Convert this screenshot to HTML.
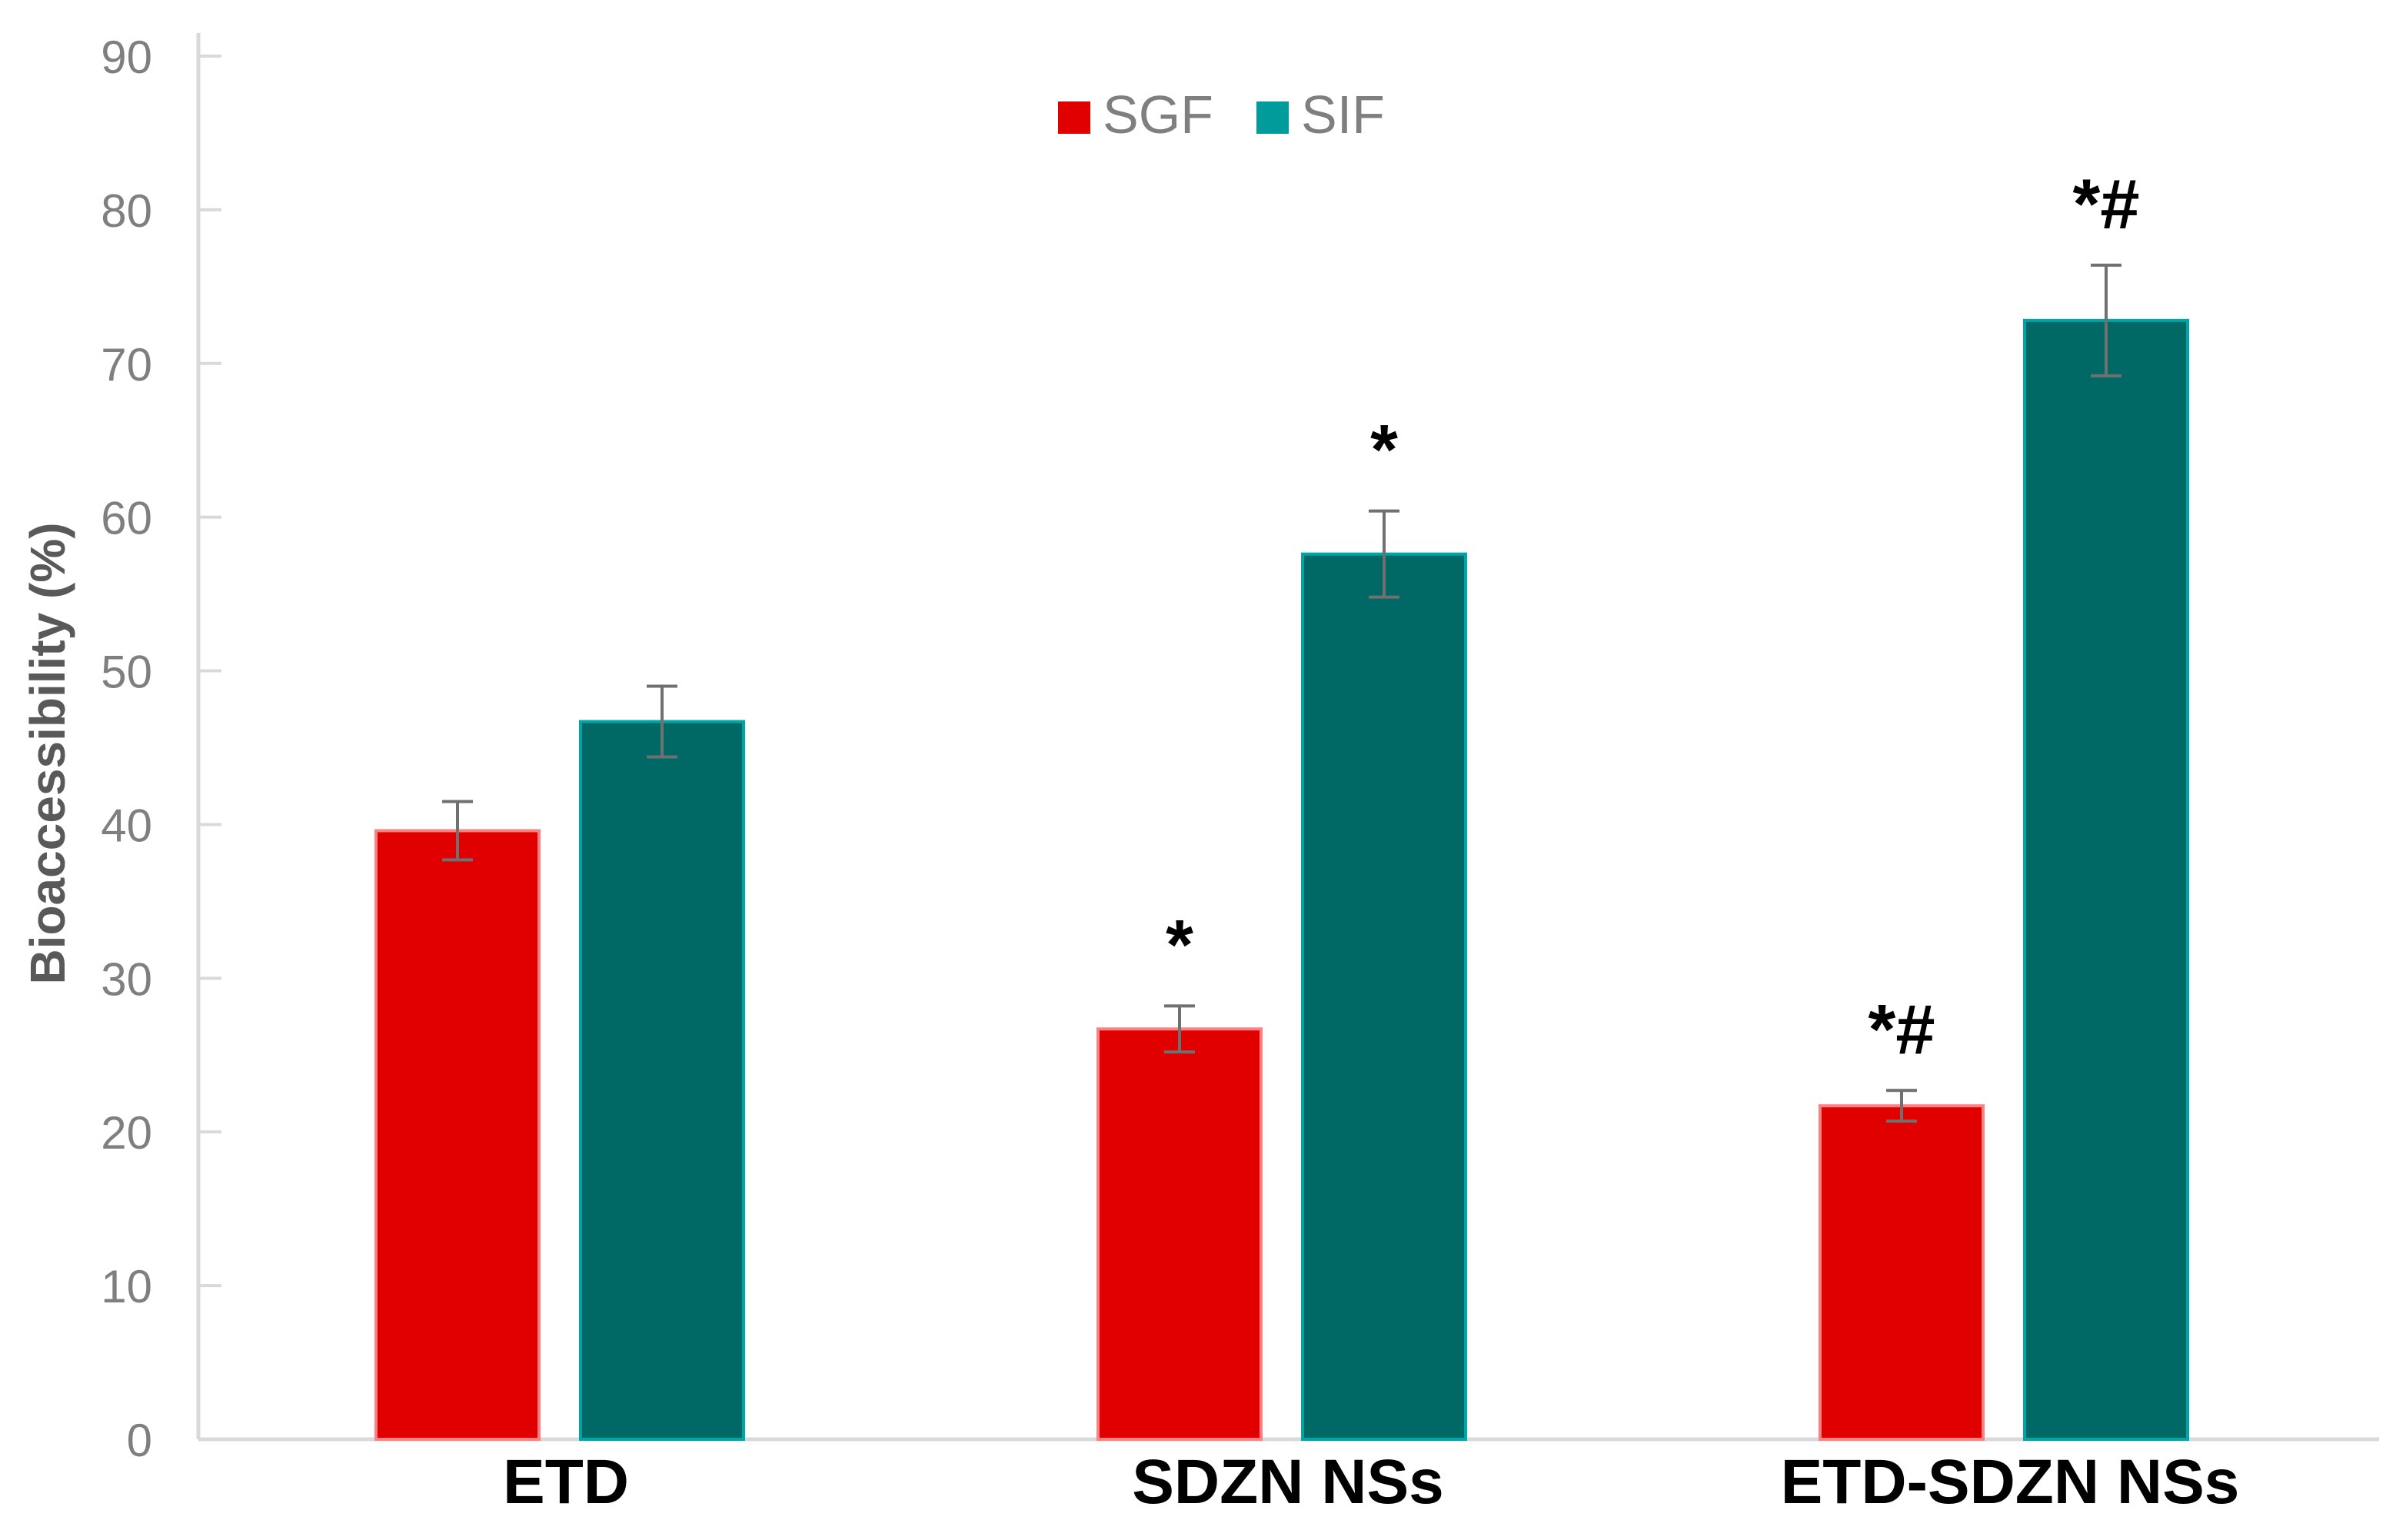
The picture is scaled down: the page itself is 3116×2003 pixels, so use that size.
<!DOCTYPE html>
<html><head><meta charset="utf-8"><style>
html,body{margin:0;padding:0;background:#fff;}
svg{display:block;}
</style></head><body>
<svg id="chart" width="3116" height="2003" viewBox="0 0 3116 2003" xmlns="http://www.w3.org/2000/svg" font-family="'Liberation Sans', sans-serif">
<g id="axes"></g>
<g id="bars"></g>
<g id="legend">
  <rect x="1376" y="132" width="42" height="42" fill="#e00000"/>
  <text x="1434" y="173" font-size="70" fill="#7f7f7f">SGF</text>
  <rect x="1634" y="132" width="42" height="42" fill="#009b9b"/>
  <text x="1692" y="173" font-size="70" fill="#7f7f7f">SIF</text>
</g>
<text transform="translate(84,980) rotate(-90)" text-anchor="middle" font-size="64" font-weight="bold" fill="#595959">Bioaccessibility (%)</text>
</svg>
<script>
const categories = ["ETD", "SDZN NSs", "ETD-SDZN NSs"];
const sgfValues = [39.6, 26.7, 21.7];
const sgfErrors = [1.9, 1.5, 1.0];
const sifValues = [46.7, 57.6, 72.8];
const sifErrors = [2.3, 2.8, 3.6];
const sgfMarks = ["", "*", "*#"];
const sifMarks = ["", "*", "*#"];
const yTicks = [0, 10, 20, 30, 40, 50, 60, 70, 80, 90];

const NS = "http://www.w3.org/2000/svg";
const x0 = 258, x1 = 3094, yBase = 1872, yTop = 73, yMax = 90;
const y = v => yBase - (v / yMax) * (yBase - yTop);
const bandStart = 728, bandStep = 939;
const bandC = i => bandStart + bandStep * i;
const barW = 212, gap = 54;

function mk(tag, attrs, parent) {
  const e = document.createElementNS(NS, tag);
  for (const k in attrs) e.setAttribute(k, attrs[k]);
  parent.appendChild(e);
  return e;
}
const axes = document.getElementById("axes");
const bars = document.getElementById("bars");

let l = mk("line", {x1: x0, y1: yTop - 30, x2: x0, y2: yBase, stroke: "#d9d9d9", "stroke-width": 5}, axes);


l = mk("line", {x1: x0, y1: yBase, x2: x1, y2: yBase, stroke: "#d9d9d9", "stroke-width": 5}, axes);



yTicks.forEach(t => {
  const tk = mk("line", {x1: x0, y1: y(t), x2: x0 + 30, y2: y(t), stroke: "#d9d9d9", "stroke-width": 4}, axes);
  
  
  const tx = mk("text", {x: 198, y: y(t) + 22, "text-anchor": "end", "font-size": 60, fill: "#7f7f7f"}, axes);
  tx.textContent = t;
  
  
});

function drawBar(i, v, err, mark, left, fill, edge, series) {
  const c = bandC(i);
  const bx = left ? c - gap / 2 - barW : c + gap / 2;
  const r = mk("rect", {x: bx, y: y(v), width: barW, height: yBase - y(v), fill: fill, stroke: edge, "stroke-width": 4}, bars);
  
  
  const cx = bx + barW / 2;
  const e = mk("path", {d: `M${cx},${y(v + err)}V${y(v - err)}M${cx - 20},${y(v + err)}H${cx + 20}M${cx - 20},${y(v - err)}H${cx + 20}`, stroke: "#707070", "stroke-width": 4, fill: "none"}, bars);
  
  
  if (mark) {
    const m = mk("text", {x: cx, y: y(v + err) - 48, "text-anchor": "middle", "font-size": 92, "font-weight": "bold", fill: "#000"}, bars);
    m.textContent = mark;
    
    
  }
}
categories.forEach((cat, i) => {
  drawBar(i, sgfValues[i], sgfErrors[i], sgfMarks[i], true, "#e00000", "#ff8080", "sgf");
  drawBar(i, sifValues[i], sifErrors[i], sifMarks[i], false, "#006865", "#00a6a6", "sif");
  const t = mk("text", {x: bandC(i) + 8, y: 1955, "text-anchor": "middle", "font-size": 82, "font-weight": "bold", fill: "#000"}, axes);
  t.textContent = cat;
  
  
});
</script>
</body></html>
